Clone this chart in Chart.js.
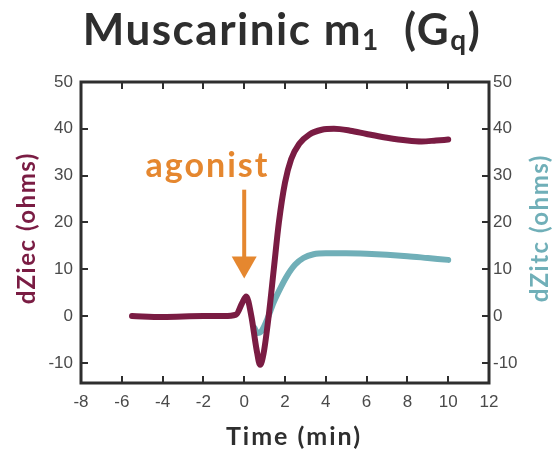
<!DOCTYPE html>
<html>
<head>
<meta charset="utf-8">
<script src="https://cdn.jsdelivr.net/npm/chart.js@4"></script>
<style>
  html, body { margin: 0; padding: 0; background: #fff; }
  #wrap { width: 555px; height: 453px; }
</style>
</head>
<body>
<div id="wrap"><canvas id="graph" width="555" height="453"></canvas></div>
<script>
// values
const ziecTime = [-5.5, -4, -2, -1, -0.4, -0.1, 0.1, 0.35, 0.6, 0.78, 0.95, 1.2, 1.45, 1.7, 2.0, 2.3, 2.7, 3.2, 3.8, 4.4, 5.2, 6.0, 7.0, 8.0, 8.7, 9.4, 10];
const ziecVal  = [0, -0.2, 0, 0, 0.3, 2.8, 4.2, 0, -7, -10.4, -8, 0, 10, 20, 28.5, 33.5, 36.8, 38.8, 39.8, 40, 39.6, 38.9, 38.1, 37.5, 37.3, 37.5, 37.7];
const zitcTime = [0.5, 0.65, 0.85, 1.1, 1.45, 1.8, 2.1, 2.5, 2.9, 3.4, 4.0, 5.0, 6.0, 7.0, 8.0, 9.0, 10];
const zitcVal  = [-2.5, -3.6, -3.2, -1, 3, 6.2, 8.6, 11, 12.4, 13.2, 13.4, 13.4, 13.3, 13.1, 12.8, 12.4, 12.0];
const xTicks = [-8, -6, -4, -2, 0, 2, 4, 6, 8, 10, 12];
const yTicks = [-10, 0, 10, 20, 30, 40, 50];
const agonistAt = 0;

const maroon = '#7a1c43';
const teal = '#70afb8';
const orange = '#e5872f';
const ink = '#2e2e2e';

function pts(xs, ys) {
  return xs.map((x, i) => ({x: x, y: ys[i]}));
}

const tickFont = {family: 'Liberation Sans', size: 17};

function spaced(ctx, text, x, y, spacing) {
  ctx.letterSpacing = spacing + 'px';
  ctx.fillText(text, x + spacing / 2, y);
  ctx.letterSpacing = '0px';
}

const decor = {
  id: 'decor',
  afterDraw(chart) {
    const ctx = chart.ctx;
    const a = chart.chartArea;
    const xs = chart.scales.x, ys = chart.scales.y;
    ctx.save();
    // inward ticks on all four sides
    ctx.strokeStyle = ink;
    ctx.lineWidth = 2;
    ctx.beginPath();
    xTicks.forEach(v => {
      const px = Math.round(xs.getPixelForValue(v));
      ctx.moveTo(px, a.bottom); ctx.lineTo(px, a.bottom - 7);
      ctx.moveTo(px, a.top); ctx.lineTo(px, a.top + 7);
    });
    yTicks.forEach(v => {
      const py = Math.round(ys.getPixelForValue(v));
      ctx.moveTo(a.left, py); ctx.lineTo(a.left + 7, py);
      ctx.moveTo(a.right, py); ctx.lineTo(a.right - 7, py);
    });
    ctx.stroke();
    ctx.lineWidth = 3;
    ctx.strokeRect(a.left, a.top, a.right - a.left, a.bottom - a.top);

    // agonist arrow
    const ax = xs.getPixelForValue(agonistAt);
    const top = ys.getPixelForValue(27);
    const tip = ys.getPixelForValue(8);
    ctx.strokeStyle = orange;
    ctx.fillStyle = orange;
    ctx.lineWidth = 4;
    ctx.beginPath();
    ctx.moveTo(ax, top); ctx.lineTo(ax, tip - 16);
    ctx.stroke();
    ctx.beginPath();
    ctx.moveTo(ax - 12.5, tip - 22);
    ctx.lineTo(ax + 12.5, tip - 22);
    ctx.lineTo(ax, tip);
    ctx.closePath();
    ctx.fill();
    ctx.font = 'bold 34px Lato';
    ctx.textAlign = 'center';
    ctx.textBaseline = 'alphabetic';
    spaced(ctx, 'agonist', xs.getPixelForValue(-1.85), ys.getPixelForValue(29.8), 2);

    // title with subscripts
    ctx.fillStyle = ink;
    const big = 'bold 44px Lato', small = 'bold 28px Lato';
    const parts = [['Muscarinic m', big, 0], ['1', small, 5], ['  (G', big, 0], ['q', small, 5], [')', big, 0]];
    ctx.letterSpacing = '1.5px';
    let w = 0;
    parts.forEach(p => { ctx.font = p[1]; w += ctx.measureText(p[0]).width; });
    let x = 282 - w / 2;
    ctx.textAlign = 'left';
    parts.forEach(p => {
      ctx.font = p[1];
      ctx.fillText(p[0], x, 45 + p[2]);
      x += ctx.measureText(p[0]).width;
    });
    ctx.letterSpacing = '0px';

    // axis titles, both y titles read bottom to top
    ctx.font = 'bold 24px Lato';
    ctx.textAlign = 'center';
    ctx.textBaseline = 'middle';
    [[27, 'dZiec (ohms)', maroon], [540, 'dZitc (ohms)', teal]].forEach(t => {
      ctx.save();
      ctx.translate(t[0], 229);
      ctx.rotate(-Math.PI / 2);
      ctx.fillStyle = t[2];
      spaced(ctx, t[1], 0, 0, 1.5);
      ctx.restore();
    });
    ctx.fillStyle = ink;
    ctx.font = 'bold 25px Lato';
    spaced(ctx, 'Time (min)', 293, 437, 2);
    ctx.restore();
  }
};

new Chart(document.getElementById('graph').getContext('2d'), {
  type: 'line',
  data: {
    datasets: [{
      label: 'dZiec',
      data: pts(ziecTime, ziecVal),
      borderColor: maroon,
      borderWidth: 6,
      borderCapStyle: 'round',
      borderJoinStyle: 'round',
      cubicInterpolationMode: 'monotone',
      pointRadius: 0,
      yAxisID: 'y'
    }, {
      label: 'dZitc',
      data: pts(zitcTime, zitcVal),
      borderColor: teal,
      borderWidth: 6,
      borderCapStyle: 'round',
      cubicInterpolationMode: 'monotone',
      pointRadius: 0,
      yAxisID: 'y1'
    }]
  },
  options: {
    responsive: false,
    animation: false,
    layout: {padding: {top: 82, left: 0, right: 0, bottom: 0}},
    plugins: {legend: {display: false}, tooltip: {enabled: false}, title: {display: false}},
    scales: {
      x: {
        type: 'linear', min: -8, max: 12,
        afterBuildTicks: s => { s.ticks = xTicks.map(v => ({value: v})); },
        afterFit: s => { s.height = 70; },
        grid: {display: false, drawTicks: false},
        border: {display: false},
        ticks: {color: '#4a4a4a', font: tickFont, padding: 9}
      },
      y: {
        position: 'left', min: -14.3, max: 50,
        afterBuildTicks: s => { s.ticks = yTicks.map(v => ({value: v})); },
        afterFit: s => { s.width = 81; },
        grid: {display: false, drawTicks: false},
        border: {display: false},
        ticks: {color: '#4a4a4a', font: tickFont, padding: 8}
      },
      y1: {
        position: 'right', min: -14.3, max: 50,
        afterBuildTicks: s => { s.ticks = yTicks.map(v => ({value: v})); },
        afterFit: s => { s.width = 66; },
        grid: {display: false, drawTicks: false},
        border: {display: false},
        ticks: {color: '#4a4a4a', font: tickFont, padding: 4}
      }
    }
  },
  plugins: [decor]
});
</script>
</body>
</html>
